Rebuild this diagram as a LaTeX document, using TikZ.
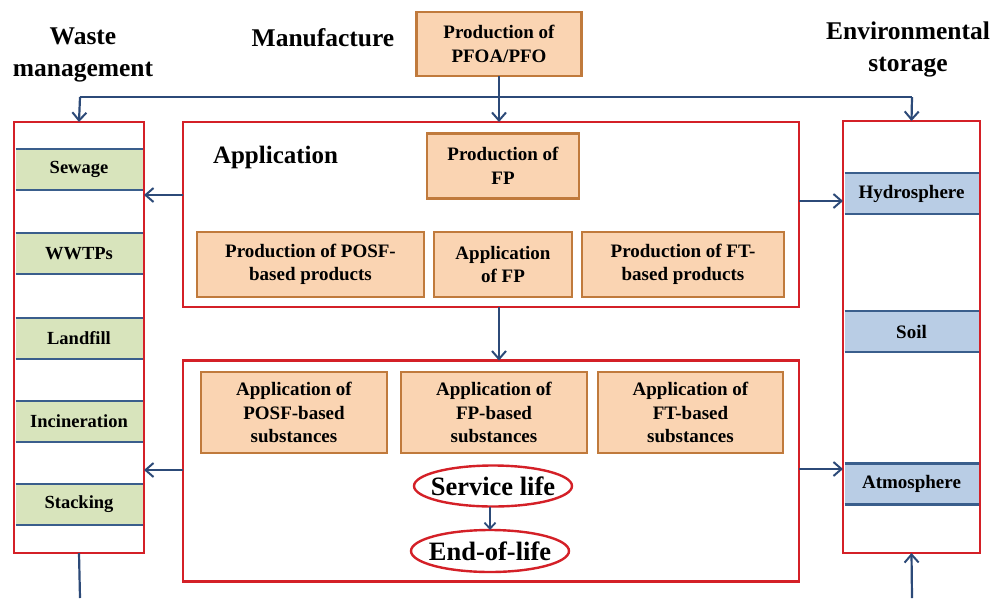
\documentclass[tikz,border=0pt]{standalone}
\usepackage{fontspec}
\setmainfont{Liberation Serif}
\usetikzlibrary{arrows.meta,shapes.geometric}
\definecolor{redb}{HTML}{D42027}
\definecolor{orgb}{HTML}{C07A3C}
\definecolor{orgf}{HTML}{FAD4B2}
\definecolor{grnf}{HTML}{D8E4BC}
\definecolor{bluf}{HTML}{B9CDE5}
\definecolor{navy}{HTML}{2C4A78}
\definecolor{strl}{HTML}{3A5E8C}
\begin{document}
\begin{tikzpicture}[x=1pt,y=-1pt,
  every node/.style={font=\bfseries, inner sep=0pt, outer sep=0pt},
  obox/.style={draw=orgb, fill=orgf, line width=2.2pt, align=center, font=\bfseries\fontsize{19}{23.5}\selectfont},
  redbox/.style={draw=redb, line width=2.4pt, fill=white},
  gstripe/.style={fill=grnf, draw=none, minimum width=127, minimum height=41, font=\bfseries\fontsize{18.5}{22}\selectfont},
  bstripe/.style={fill=bluf, draw=none, minimum width=134, minimum height=41, font=\bfseries\fontsize{19}{22}\selectfont},
  title/.style={align=center, font=\bfseries\fontsize{25.5}{32}\selectfont},
  oval/.style={ellipse, draw=redb, line width=2.4pt, fill=white},
  ovaltext/.style={font=\bfseries\fontsize{26.5}{30}\selectfont},
  conn/.style={draw=navy, line width=2.2pt},
  arr/.style={conn, -{Straight Barb[length=8pt,width=14pt,line width=2pt]}}
]
\useasboundingbox (0,0) rectangle (991,598);

% titles
\node[title] (twaste) at (83,55) {Waste\\management};
\node[title] (tmanu) at (323,38) {Manufacture};
\node[title] (tenv) at (908,49) {Environmental\\storage};

% top box
\node[obox, minimum width=165, minimum height=64] (pfoa) at (499,44) {Production of\\PFOA/PFO};

% side boxes
\node[redbox, minimum width=130, minimum height=431] (waste) at (79,337.5) {};
\node[redbox, minimum width=137, minimum height=432] (env) at (911.5,337) {};

% green stripes
\foreach \n/\t/\y in {sew/Sewage/169.5, wwt/WWTPs/253.5, land/Landfill/338.5, inc/Incineration/421.5, stk/Stacking/504.5}{
  \node[gstripe] (\n) at (79,\y) {\t};
  \draw[strl, line width=2.4pt] (\n.north west) -- (\n.north east) (\n.south west) -- (\n.south east);
}
% blue stripes
\foreach \n/\t/\y in {hyd/Hydrosphere/193.5, soil/Soil/331.5, atm/Atmosphere/484}{
  \node[bstripe] (\n) at (911.5,\y) {\t};
  \draw[strl, line width=2.4pt] (\n.north west) -- (\n.north east) (\n.south west) -- (\n.south east);
}

% application box
\node[redbox, minimum width=616, minimum height=185] (app) at (491,214.5) {};
\node[font=\bfseries\fontsize{25}{28}\selectfont, anchor=west] (applab) at (213,157) {Application};
\node[obox, minimum width=152, minimum height=65] (pfp) at (503,166) {Production of\\FP};
\node[obox, minimum width=227, minimum height=65] (pposf) at (310.5,264.5) {Production of POSF-\\based products};
\node[obox, minimum width=138, minimum height=65] (afp) at (503,264.5) {Application\\of FP};
\node[obox, minimum width=202, minimum height=65] (pft) at (683,264.5) {Production of FT-\\based products};

% lower box
\node[redbox, minimum width=616, minimum height=221] (low) at (491,471) {};
\node[obox, minimum width=186, minimum height=81] (aposf) at (294,412.5) {Application of\\POSF-based\\substances};
\node[obox, minimum width=186, minimum height=81] (afps) at (494,412.5) {Application of\\FP-based\\substances};
\node[obox, minimum width=185, minimum height=81] (afts) at (690.5,412.5) {Application of\\FT-based\\substances};
\node[oval, minimum width=158, minimum height=41] (serv) at (493,486) {};
\node[ovaltext] (servt) at (serv.center) {Service life};
\node[oval, minimum width=158, minimum height=42] (eol) at (490,551) {};
\node[ovaltext] (eolt) at (eol.center) {End-of-life};

% connectors
\coordinate (hl) at (80,97);
\coordinate (hr) at (912,97);
\coordinate (wb) at (80,598);
\coordinate (eb) at (912,598);
\draw[conn] (hl) -- (hr);
\draw[arr] (hl) -- (waste.north);
\draw[arr] (hr) -- (env.north);
\draw[arr] (pfoa.south) -- (app.north -| pfoa.south);
\draw[arr] (app.south -| pfoa.south) -- (low.north -| pfoa.south);
\draw[arr] (app.west |- 0,195) -- (waste.east |- 0,195);
\draw[arr] (app.east |- 0,201) -- (env.west |- 0,201);
\draw[arr] (low.west |- 0,470) -- (waste.east |- 0,470);
\draw[arr] (low.east |- 0,469) -- (env.west |- 0,469);
\draw[conn] (waste.south) -- (wb);
\draw[arr] (eb) -- (env.south);
\draw[conn, -{Straight Barb[length=6pt,width=11pt,line width=1.8pt]}] (serv.south -| eol.north) -- (eol.north);
\end{tikzpicture}
\end{document}
